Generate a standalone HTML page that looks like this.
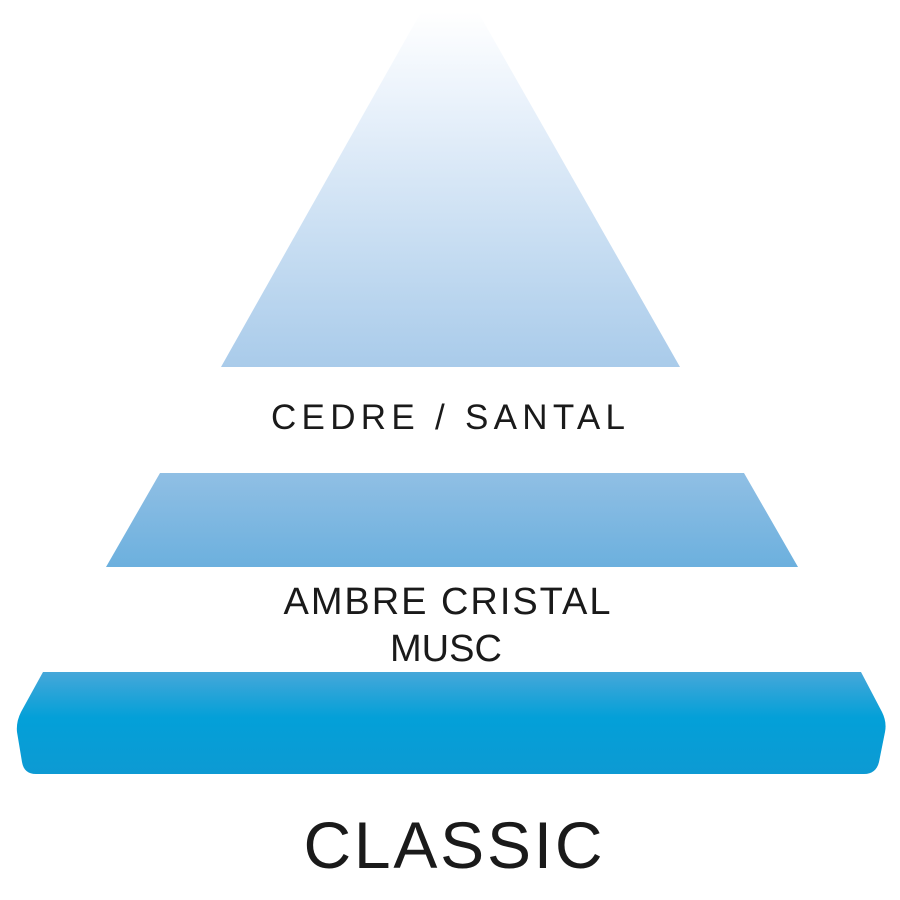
<!DOCTYPE html>
<html><head><style>html,body{margin:0;padding:0;background:#fff;}svg{display:block}</style></head>
<body>
<svg width="900" height="900" viewBox="0 0 900 900" xmlns="http://www.w3.org/2000/svg">
<defs>
<linearGradient id="g1" x1="0" y1="0" x2="0" y2="1">
<stop offset="0" stop-color="#ffffff"/><stop offset="0.25" stop-color="#eaf2fb"/><stop offset="1" stop-color="#a9cbea"/></linearGradient>
<linearGradient id="g2" x1="0" y1="0" x2="0" y2="1">
<stop offset="0" stop-color="#90bfe4"/><stop offset="1" stop-color="#6cb0de"/></linearGradient>
<linearGradient id="g3" x1="0" y1="0" x2="0" y2="1">
<stop offset="0" stop-color="#46a7d9"/><stop offset="0.45" stop-color="#03a0d8"/><stop offset="1" stop-color="#0d9ad3"/></linearGradient>
</defs>
<polygon points="421,12 478,12 680,367 221,367" fill="url(#g1)"/>
<polygon points="160,473 744,473 798,567 106,567" fill="url(#g2)"/>
<path d="M43,672 L861,672 L882,712 Q887,722 885,732 L879,762 Q876,774 864,774 L36,774 Q24,774 22,762 L17,732 Q16,722 21,712 Z" fill="url(#g3)"/>
<g font-family="Liberation Sans Narrow, Liberation Sans, sans-serif" fill="#1a1a1a" text-anchor="middle">
<text x="448" y="429" font-size="35" textLength="354" lengthAdjust="spacing">CEDRE / SANTAL</text>
<text x="447" y="614" font-size="38" textLength="327" lengthAdjust="spacing">AMBRE CRISTAL</text>
<text x="446" y="661" font-size="38" textLength="112" lengthAdjust="spacing">MUSC</text>
<text x="453" y="868" font-size="66" textLength="299" lengthAdjust="spacing">CLASSIC</text>
</g>
</svg>
</body></html>
